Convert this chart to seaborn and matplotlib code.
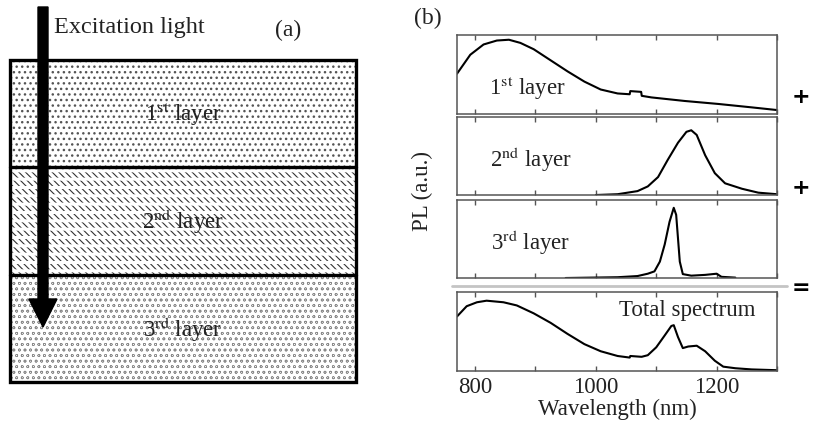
import numpy as np
import pandas as pd
import matplotlib
matplotlib.use("Agg")
import matplotlib.pyplot as plt
from matplotlib.patches import Rectangle
from matplotlib.ticker import MultipleLocator
import seaborn as sns

sns.set_style("ticks")
plt.rcParams["font.family"] = ["Liberation Serif", "DejaVu Serif"]
plt.rcParams["mathtext.fontset"] = "stix"

# spectra (wavelength in nm, PL normalised to panel height)
WL_LAYER1 = [770, 792, 814, 836, 856, 875, 897, 925, 953, 981, 1008, 1036,
             1056, 1057, 1075, 1076, 1092, 1147, 1203, 1258, 1300]
PL_LAYER1 = [0.51, 0.75, 0.88, 0.93, 0.94, 0.90, 0.82, 0.68, 0.54, 0.41, 0.31, 0.26,
             0.25, 0.29, 0.28, 0.23, 0.21, 0.165, 0.127, 0.084, 0.05]

WL_LAYER2 = [1000, 1036, 1069, 1086, 1103, 1119, 1136, 1150, 1158, 1167,
             1181, 1197, 1214, 1242, 1269, 1300]
PL_LAYER2 = [0.0, 0.01, 0.05, 0.11, 0.23, 0.45, 0.67, 0.81, 0.83, 0.77,
             0.51, 0.28, 0.15, 0.08, 0.03, 0.01]

WL_LAYER3 = [950, 1036, 1069, 1086, 1097, 1106, 1114, 1122, 1129, 1133, 1139,
             1144, 1158, 1181, 1200, 1208, 1231]
PL_LAYER3 = [0.0, 0.01, 0.025, 0.055, 0.085, 0.21, 0.43, 0.72, 0.90, 0.81, 0.21,
             0.05, 0.03, 0.04, 0.055, 0.015, 0.005]

WL_TOTAL = [770, 786, 803, 819, 847, 869, 897, 925, 953, 981, 1008, 1036, 1056,
            1057, 1075, 1076, 1086, 1100, 1114, 1125, 1129, 1136, 1144, 1153,
            1167, 1181, 1197, 1211, 1231, 1258, 1300]
PL_TOTAL = [0.69, 0.82, 0.87, 0.89, 0.87, 0.83, 0.73, 0.61, 0.47, 0.34, 0.25, 0.19, 0.17,
            0.19, 0.18, 0.18, 0.20, 0.30, 0.45, 0.57, 0.58, 0.43, 0.29, 0.31,
            0.32, 0.25, 0.13, 0.055, 0.035, 0.02, 0.01]

PANEL_LABELS = ["1$^{\\rm st}$ layer", "2$^{\\rm nd}$ layer", "3$^{\\rm rd}$ layer", "Total spectrum"]
OPERATORS = ["+", "+", "="]
XTICKS_MAJOR = [800, 1000, 1200]

W, H = 813, 432
FS = 16.5
TXT = "#222222"
fig = plt.figure(figsize=(W / 100, H / 100), dpi=100)

# ---------------- (a) schematic ----------------
ax0 = fig.add_axes([0, 0, 400 / W, 1])
ax0.set_xlim(0, 400)
ax0.set_ylim(H, 0)
ax0.axis("off")

layers = [(60, 167), (167, 275), (275, 382)]
hatches = ["...", "\\\\\\\\\\", "ooo"]
hatch_lw = [1.0, 0.8, 0.45]
hatch_col = ["#555555", "#333333", "#8a8a8a"]
for (top, bot), h, lw, hc in zip(layers, hatches, hatch_lw, hatch_col):
    with plt.rc_context({"hatch.linewidth": lw, "hatch.color": hc}):
        ax0.add_patch(Rectangle((10, top), 346, bot - top, facecolor="white",
                                edgecolor=hc, hatch=h, linewidth=0))
# white horizontal gaps that split the 2nd-layer hatching into bands
with plt.rc_context({"hatch.linewidth": 2.2, "hatch.color": "white"}):
    ax0.add_patch(Rectangle((10, 167), 346, 108, facecolor="none",
                            edgecolor="white", hatch="--", linewidth=0))

ax0.add_patch(Rectangle((10, 60), 346, 322, facecolor="none", edgecolor="black", linewidth=2.4))
for yb in (167, 275):
    ax0.plot([10, 356], [yb, yb], color="black", linewidth=2.4)

ax0.arrow(43, 7, 0, 320, width=10, head_width=28, head_length=28,
          length_includes_head=True, color="black", zorder=5)

ax0.text(54, 28, "Excitation light", fontsize=17.5, va="center", ha="left", color=TXT)
ax0.text(288, 30, "(a)", fontsize=17, va="center", ha="center", color=TXT)
for (top, bot), lab in zip(layers, PANEL_LABELS[:3]):
    ax0.text(183, (top + bot) / 2 + 1, lab, fontsize=FS, va="center", ha="center",
             color=TXT, zorder=6)

# ---------------- (b) spectra ----------------
panel_px = [(35, 114), (117, 195), (200, 278), (292, 371)]
series = [(WL_LAYER1, PL_LAYER1), (WL_LAYER2, PL_LAYER2),
          (WL_LAYER3, PL_LAYER3), (WL_TOTAL, PL_TOTAL)]
label_pos = [(0.22, 0.33), (0.23, 0.46), (0.23, 0.46), (0.72, 0.77)]

axes = []
for (top, bot), (wl, pl), lab, lp in zip(panel_px, series, PANEL_LABELS, label_pos):
    ax = fig.add_axes([457 / W, (H - bot) / H, 320 / W, (bot - top) / H])
    df = pd.DataFrame({"wl": wl, "pl": pl})
    sns.lineplot(data=df, x="wl", y="pl", ax=ax, color="black", linewidth=1.5)
    ax.set_xlim(770, 1300)
    ax.set_ylim(0, 1)
    ax.set_yticks([])
    ax.set_xlabel("")
    ax.set_ylabel("")
    ax.xaxis.set_major_locator(MultipleLocator(200))
    ax.xaxis.set_minor_locator(MultipleLocator(100))
    ax.tick_params(axis="x", which="both", direction="in", top=True, bottom=True,
                   length=3.5, width=1.0, color="#555555", labelbottom=False,
                   labelsize=FS, labelcolor=TXT, pad=4)
    for sp in ax.spines.values():
        sp.set_color("#555555")
        sp.set_linewidth(1.1)
    ax.text(lp[0], lp[1], lab, transform=ax.transAxes, fontsize=FS,
            ha="center", va="center", color=TXT)
    axes.append(ax)

axes[-1].set_xticks(XTICKS_MAJOR)
axes[-1].tick_params(axis="x", labelbottom=True)
axes[-1].set_xlabel("Wavelength (nm)", fontsize=FS, color=TXT, labelpad=1)

fig.text(422 / W, 1 - 191 / H, "PL (a.u.)", rotation=90, fontsize=FS,
         ha="center", va="center", color=TXT)
fig.text(428 / W, 1 - 18 / H, "(b)", fontsize=17, ha="center", va="center", color=TXT)

# separator before the total spectrum
fig.add_artist(plt.Line2D([452 / W, 787 / W], [1 - 286 / H, 1 - 286 / H],
                          color="#c4c4c4", linewidth=2.0))

for op, yc in zip(OPERATORS, [97, 188, 288]):
    fig.text(801 / W, 1 - yc / H, op, fontsize=16, fontweight="bold",
             family="DejaVu Sans", ha="center", va="center", color="black")

fig.savefig("out.png", dpi=100)
